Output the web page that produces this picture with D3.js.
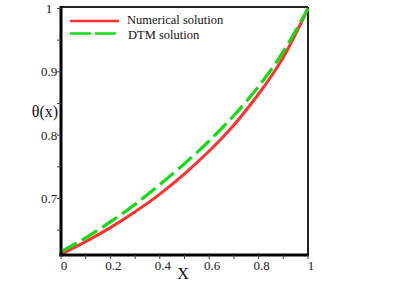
<!DOCTYPE html>
<html>
<head>
<meta charset="utf-8">
<script src="https://cdn.jsdelivr.net/npm/d3@7"></script>
<style>
html,body{margin:0;padding:0;background:#fff;}
svg{display:block;}
svg text{font-family:"Liberation Serif","DejaVu Serif",serif;}
</style>
</head>
<body>
<svg id="chart" width="393" height="286"></svg>
<script>
const xValues = [0, 0.1, 0.2, 0.3, 0.4, 0.5, 0.6, 0.7, 0.8, 0.9, 1.0];
const numericalValues = [0.612, 0.632, 0.654, 0.679, 0.707, 0.739, 0.775, 0.816, 0.865, 0.923, 1.0];
const dtmValues = [0.616, 0.638, 0.663, 0.691, 0.722, 0.755, 0.791, 0.831, 0.877, 0.932, 1.0];
const xTickLabels = ["0", "0.2", "0.4", "0.6", "0.8", "1"];
const xTickValues = [0, 0.2, 0.4, 0.6, 0.8, 1];
const yTickValues = [0.7, 0.8, 0.9, 1.0];
const yTickLabels = ["0.7", "0.8", "0.9", "1"];
const seriesNames = ["Numerical solution", "DTM solution"];

(function () {
const FONT = "Liberation Serif, DejaVu Serif, serif";
const svg = d3.select("#chart");
const pLeft = 61, pRight = 308, pTop = 8.5, pBottom = 255;
const x = d3.scaleLinear().domain([0, 1]).range([pLeft, pRight]);
const y = d3.scaleLinear().domain([0.7, 1.0]).range([198.5, pTop]);

// frame top & right
svg.append("line").attr("x1", pLeft).attr("x2", pRight).attr("y1", 7).attr("y2", 7)
  .attr("stroke", "#222").attr("stroke-width", 2);
svg.append("line").attr("x1", pRight).attr("x2", pRight).attr("y1", 7).attr("y2", pBottom)
  .attr("stroke", "#222").attr("stroke-width", 2);

// curves
const line = d3.line().x((d, i) => x(xValues[i])).y(d => y(d)).curve(d3.curveNatural);
svg.append("path").datum(numericalValues).attr("d", line)
  .attr("fill", "none").attr("stroke", "#ff3030").attr("stroke-width", 3);
svg.append("path").datum(dtmValues).attr("d", line)
  .attr("fill", "none").attr("stroke", "#12dd12").attr("stroke-width", 3.2)
  .attr("stroke-dasharray", "18,6");

// axes lines
svg.append("line").attr("x1", pLeft).attr("x2", pLeft).attr("y1", 6).attr("y2", pBottom + 1.5)
  .attr("stroke", "#000").attr("stroke-width", 3);
svg.append("line").attr("x1", pLeft - 1.5).attr("x2", pRight + 1).attr("y1", pBottom).attr("y2", pBottom)
  .attr("stroke", "#000").attr("stroke-width", 3);

// y ticks
const yMinor = [0.65, 0.75, 0.85, 0.95];
svg.selectAll(".ytick").data(yTickValues.concat(yMinor)).enter().append("line")
  .attr("x1", pLeft - 4).attr("x2", pLeft).attr("y1", d => y(d)).attr("y2", d => y(d))
  .attr("stroke", "#444").attr("stroke-width", 1);
svg.selectAll(".ylab").data(yTickValues).enter().append("text")
  .attr("font-family", FONT)
  .attr("x", 49).attr("y", d => y(d)).attr("dy", "0.35em")
  .attr("text-anchor", "middle").attr("font-size", 13).attr("fill", "#222")
  .text((d, i) => yTickLabels[i]);

// x ticks
const xMinor = [0.1, 0.3, 0.5, 0.7, 0.9];
svg.selectAll(".xtick").data(xTickValues.concat(xMinor)).enter().append("line")
  .attr("x1", d => x(d)).attr("x2", d => x(d)).attr("y1", pBottom).attr("y2", pBottom + 4)
  .attr("stroke", "#444").attr("stroke-width", 1);
svg.selectAll(".xlab").data(xTickValues).enter().append("text")
  .attr("font-family", FONT)
  .attr("x", d => x(d) + 3).attr("y", 270)
  .attr("text-anchor", "middle").attr("font-size", 13).attr("fill", "#222")
  .text((d, i) => xTickLabels[i]);

// axis titles
svg.append("text").attr("font-family", FONT).attr("x", 45).attr("y", 117).attr("text-anchor", "middle")
  .attr("font-size", 16).attr("fill", "#111").text("θ(x)");
svg.append("text").attr("font-family", FONT).attr("x", 183).attr("y", 279).attr("text-anchor", "middle")
  .attr("font-size", 16).attr("fill", "#111").text("X");

// legend
svg.append("line").attr("x1", x(0.036)).attr("x2", x(0.235)).attr("y1", 21).attr("y2", 21)
  .attr("stroke", "#ff3030").attr("stroke-width", 2.5);
svg.append("line").attr("x1", x(0.036)).attr("x2", x(0.235)).attr("y1", 33.5).attr("y2", 33.5)
  .attr("stroke", "#12dd12").attr("stroke-width", 2.5).attr("stroke-dasharray", "21,4");
svg.append("text").attr("font-family", FONT).attr("x", 127).attr("y", 24).attr("font-size", 12.5).attr("fill", "#111").text(seriesNames[0]);
svg.append("text").attr("font-family", FONT).attr("x", 128).attr("y", 38.5).attr("font-size", 12.5).attr("fill", "#111").text(seriesNames[1]);
})();
</script>
</body>
</html>
